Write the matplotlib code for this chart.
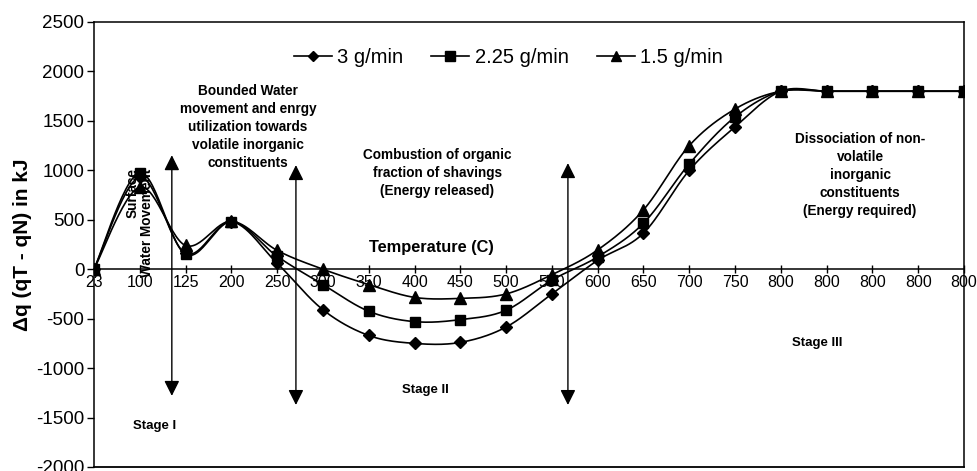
import numpy as np
import matplotlib
matplotlib.use("Agg")
import matplotlib.pyplot as plt

plt.rcParams['font.family'] = ['Liberation Sans', 'DejaVu Sans']
plt.rcParams['axes.unicode_minus'] = False

categories = ['23', '100', '125', '200', '250', '300', '350', '400', '450', '500',
              '550', '600', '650', '700', '750', '800', '800', '800', '800', '800']
s_3 = [0, 930, 160, 480, 60, -410, -670, -750, -740, -585, -250, 90, 365, 1000, 1440,
       1800, 1800, 1800, 1800, 1800]
s_225 = [0, 975, 150, 480, 130, -155, -425, -530, -510, -415, -110, 125, 465, 1065, 1540,
         1800, 1800, 1800, 1800, 1800]
s_15 = [0, 830, 240, 485, 190, 0, -155, -285, -295, -250, -55, 195, 600, 1250, 1620,
        1800, 1800, 1800, 1800, 1800]
series_labels = ['3 g/min', '2.25 g/min', '1.5 g/min']
markers = ['D', 's', '^']
msizes = [6, 7.5, 8]


def smooth(xs, ys, n=30):
    """Excel-like smoothed line (Catmull-Rom Bezier)."""
    P = np.column_stack([xs, ys]).astype(float)
    m = len(P)
    out = []
    for i in range(m - 1):
        p0 = P[max(i - 1, 0)]
        p1 = P[i]
        p2 = P[i + 1]
        p3 = P[min(i + 2, m - 1)]
        c1 = p1 + (p2 - p0) / 6.0
        c2 = p2 - (p3 - p1) / 6.0
        t = np.linspace(0, 1, n)[:, None]
        seg = ((1 - t) ** 3) * p1 + 3 * ((1 - t) ** 2) * t * c1 + 3 * (1 - t) * t ** 2 * c2 + t ** 3 * p2
        if i > 0:
            seg = seg[1:]
        out.append(seg)
    out = np.vstack(out)
    return out[:, 0], out[:, 1]


fig = plt.figure(figsize=(9.77, 4.71), dpi=100)
ax = fig.add_axes([0.0962, 0.0085, 0.8905, 0.9448])

x = np.arange(len(categories))
handles = []
for ys, mk, ms, lab in zip([s_3, s_225, s_15], markers, msizes, series_labels):
    sx, sy = smooth(x, ys)
    ax.plot(sx, sy, color='black', lw=1.2, zorder=3)
    ax.plot(x, ys, linestyle='none', marker=mk, ms=ms, color='black', zorder=4)
    h, = ax.plot([], [], color='black', lw=1.2, marker=mk, ms=ms - 0.5, label=lab)
    handles.append(h)

ax.set_xlim(0, len(categories) - 1)
ax.set_ylim(-2000, 2500)
ax.set_yticks(np.arange(-2000, 2501, 500))
ax.set_xticks(x)
ax.set_xticklabels(categories)

ax.spines['bottom'].set_position(('data', 0))
for s in ax.spines.values():
    s.set_linewidth(1.1)
ax.plot([0, 1], [0, 0], transform=ax.transAxes, color='black', lw=1.3, clip_on=False)

ax.tick_params(axis='y', direction='out', length=5, width=1, labelsize=13.5, pad=2)
ax.tick_params(axis='x', direction='inout', length=6, width=1, labelsize=11.5, pad=1)

ax.set_ylabel('Δq (qT - qN) in kJ', fontsize=15, fontweight='bold')
ax.yaxis.set_label_coords(-0.071, 0.5)

leg = ax.legend(handles=handles, loc='center', bbox_to_anchor=(0.476, 0.921), ncol=3,
                frameon=False, fontsize=14.5, handlelength=1.9, handletextpad=0.25,
                columnspacing=1.4, numpoints=1)

tkw = dict(fontweight='bold', ha='center', va='center', color='black')
ax.text(3.36, 1437, 'Bounded Water\nmovement and enrgy\nutilization towards\nvolatile inorganic\nconstituents',
        fontsize=9.8, linespacing=1.38, **tkw)
ax.text(7.5, 970, 'Combustion of organic\nfraction of shavings\n(Energy released)',
        fontsize=9.8, linespacing=1.38, **tkw)
ax.text(7.38, 224, 'Temperature (C)', fontsize=11.8, **tkw)
ax.text(16.73, 952, 'Dissociation of non-\nvolatile\ninorganic\nconstituents\n(Energy required)',
        fontsize=9.8, linespacing=1.38, **tkw)
ax.text(1.33, -1586, 'Stage I', fontsize=9.5, **tkw)
ax.text(7.23, -1221, 'Stage II', fontsize=9.5, **tkw)
ax.text(15.8, -747, 'Stage III', fontsize=9.5, **tkw)
ax.text(1.0, 1020, 'Surface\nWater Movement', fontsize=9.8, fontweight='bold', rotation=90,
        ha='center', va='top', multialignment='right', linespacing=1.1, zorder=5)

arrows = [(1.70, 1153, -1281), (4.41, 1053, -1373), (10.35, 1073, -1373)]
for ax_x, top, bot in arrows:
    ax.annotate('', xy=(ax_x, top), xytext=(ax_x, bot),
                arrowprops=dict(arrowstyle='<|-|>', color='black', lw=1.0,
                                mutation_scale=23, shrinkA=0, shrinkB=0), zorder=2)

fig.savefig('out.png', dpi=100)
